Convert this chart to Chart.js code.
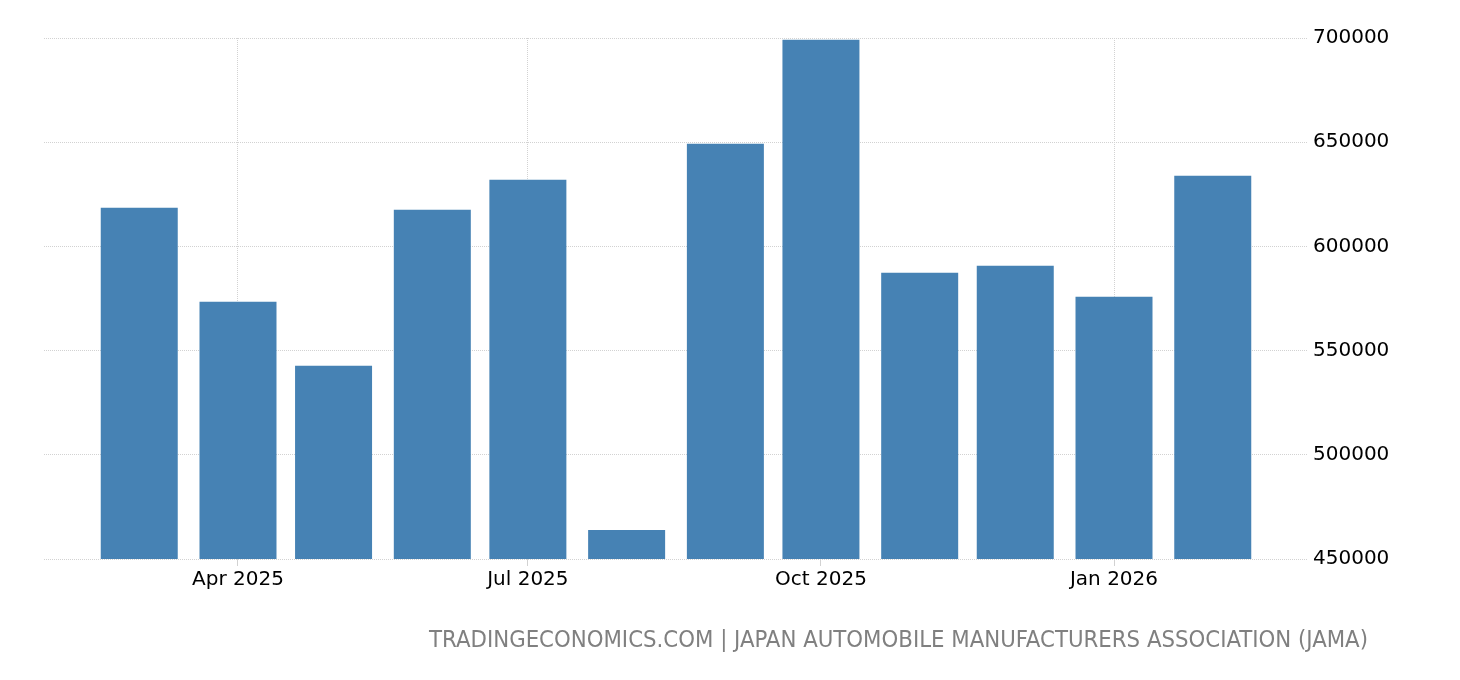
<!DOCTYPE html>
<html>
<head>
<meta charset="utf-8">
<script src="https://cdn.jsdelivr.net/npm/chart.js@4"></script>
<style>
  html, body { margin: 0; padding: 0; background: #fff; }
  #wrap { position: relative; width: 1460px; height: 680px; }
  #source {
    position: absolute; right: 92px; top: 625px;
    font-family: "DejaVu Sans Condensed", "DejaVu Sans", sans-serif;
    font-size: 23.7px; color: #808080; white-space: nowrap;
  }
</style>
</head>
<body>
<div id="wrap">
  <canvas id="chart" width="1460" height="680"></canvas>
  <div id="source">TRADINGECONOMICS.COM | JAPAN AUTOMOBILE MANUFACTURERS ASSOCIATION (JAMA)</div>
</div>
<script>
// Monthly values, one bar per month
var months = ['2025-03-01', '2025-04-01', '2025-05-01', '2025-06-01', '2025-07-01', '2025-08-01',
              '2025-09-01', '2025-10-01', '2025-11-01', '2025-12-01', '2026-01-01', '2026-02-01'];
var production = [618500, 573400, 542700, 617600, 632000, 463900,
                  649300, 699200, 587300, 590700, 575800, 633900];

// Labels shown under the x axis
var tickDates = ['2025-04-01', '2025-07-01', '2025-10-01', '2026-01-01'];
var tickLabels = ['Apr 2025', 'Jul 2025', 'Oct 2025', 'Jan 2026'];

// Convert a date string into days since 1 Jan 2025 (no date adapter available)
function toDay(s) {
  var p = s.split('-');
  return (Date.UTC(+p[0], +p[1] - 1, +p[2]) - Date.UTC(2025, 0, 1)) / 86400000;
}

var points = months.map(function(m, i) {
  return { x: toDay(m), y: production[i] };
});
var tickDays = tickDates.map(toDay);

var gridColor = '#d2d2d2';
var font = { family: 'DejaVu Sans', size: 20 };

var ctx = document.getElementById('chart').getContext('2d');
var chart = new Chart(ctx, {
  type: 'bar',
  data: {
    datasets: [{
      data: points,
      backgroundColor: '#4682b4',
      borderWidth: 0,
      inflateAmount: 0,
      barThickness: 77
    }]
  },
  options: {
    responsive: false,
    animation: false,
    layout: { padding: { left: 44, top: 38, right: 0, bottom: 0 } },
    plugins: { legend: { display: false }, tooltip: { enabled: false } },
    scales: {
      x: {
        type: 'linear',
        min: 29.1,
        max: 425.9,
        offset: false,
        afterBuildTicks: function(scale) {
          scale.ticks = tickDays.map(function(d) { return { value: d }; });
        },
        afterFit: function(scale) { scale.height = 121; },
        ticks: {
          autoSkip: false,
          maxRotation: 0,
          padding: 2,
          color: '#000',
          font: font,
          callback: function(value) {
            var i = tickDays.indexOf(value);
            return i >= 0 ? tickLabels[i] : '';
          }
        },
        grid: {
          offset: false,
          color: gridColor,
          tickColor: gridColor,
          tickLength: 7,
          tickBorderDash: []
        },
        border: { display: false, dash: [1, 1] }
      },
      y: {
        position: 'right',
        min: 450000,
        max: 700000,
        afterFit: function(scale) { scale.width = 152; },
        ticks: {
          stepSize: 50000,
          padding: 5,
          color: '#000',
          font: font,
          callback: function(value) { return String(value); }
        },
        grid: {
          color: gridColor,
          drawTicks: false
        },
        border: { display: false, dash: [1, 1] }
      }
    }
  }
});
</script>
</body>
</html>
